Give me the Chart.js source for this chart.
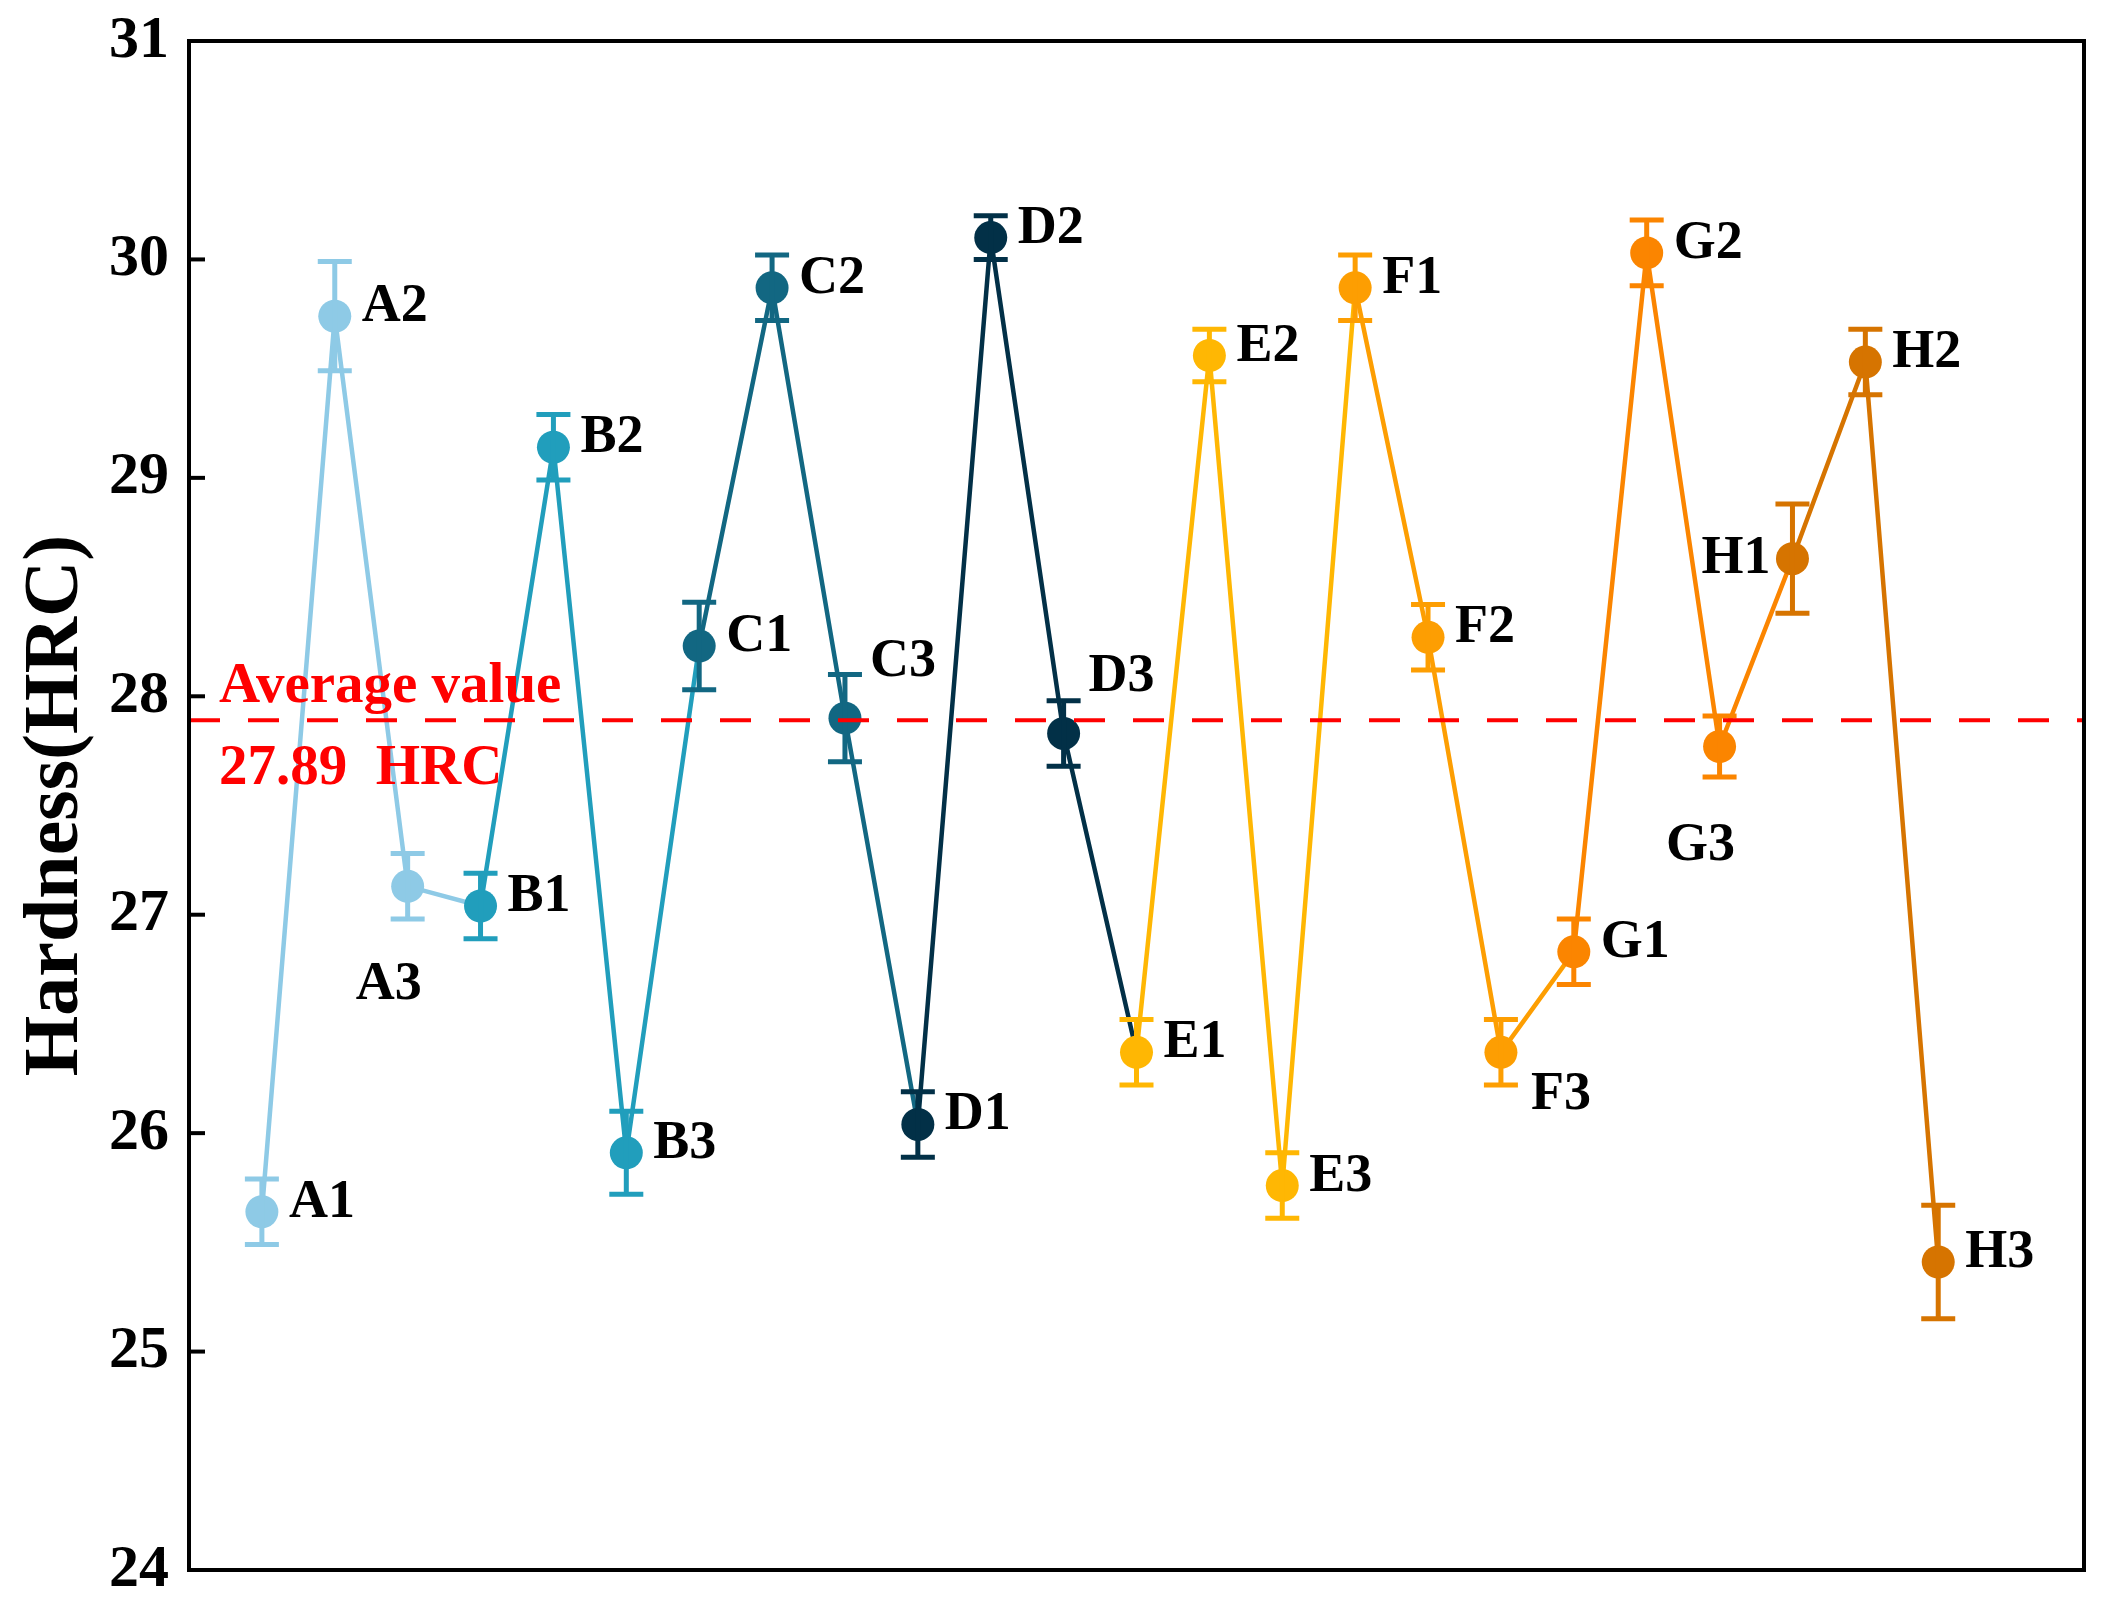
<!DOCTYPE html>
<html lang="en">
<head>
    <meta charset="UTF-8">
    <title>Hardness (HRC)</title>
    <script src="https://cdn.jsdelivr.net/npm/chart.js@4.4.1/dist/chart.umd.min.js"></script>
    <style>
        html, body {
            margin: 0;
            padding: 0;
            background: #fff;
        }
        #chart-box {
            width: 2122px;
            height: 1610px;
        }
    </style>
</head>
<body>
    <div id="chart-box">
        <canvas id="hardness-chart" width="2122" height="1610"></canvas>
    </div>
    <script>
        // sample names, mean hardness and error (HRC)
        const sampleNames = ['A1', 'A2', 'A3', 'B1', 'B2', 'B3', 'C1', 'C2', 'C3', 'D1', 'D2', 'D3',
            'E1', 'E2', 'E3', 'F1', 'F2', 'F3', 'G1', 'G2', 'G3', 'H1', 'H2', 'H3'];
        const hardness = [25.64, 29.74, 27.13, 27.04, 29.14, 25.91, 28.23, 29.87, 27.90, 26.04, 30.10, 27.83,
            26.37, 29.56, 25.76, 29.87, 28.27, 26.37, 26.83, 30.03, 27.77, 28.63, 29.53, 25.41];
        const hardnessErr = [0.15, 0.25, 0.15, 0.15, 0.15, 0.19, 0.20, 0.15, 0.20, 0.15, 0.10, 0.15,
            0.15, 0.12, 0.15, 0.15, 0.15, 0.15, 0.15, 0.15, 0.14, 0.25, 0.15, 0.26];
        const groupNames = ['A', 'B', 'C', 'D', 'E', 'F', 'G', 'H'];
        const groupColors = ['#8ecae6', '#219ebc', '#126782', '#023047', '#ffb703', '#fd9e02', '#fb8500', '#d67400'];
        const averageValue = 27.89;
        const yMin = 24;
        const yMax = 31;

        const serif = "'Liberation Serif', 'Times New Roman', serif";
        const pointColors = sampleNames.map(n => groupColors[groupNames.indexOf(n[0])]);

        // where each sample label sits relative to its point (default is to the right)
        const labelSide = { A3: 'below', G3: 'below', H1: 'left', C3: 'upRight', D3: 'upRight', F3: 'downRight' };

        const decorPlugin = {
            id: 'decor',
            afterDatasetsDraw(chart) {
                const { ctx, chartArea: area, scales: { x, y } } = chart;
                ctx.save();
                // error bars
                hardness.forEach((v, i) => {
                    const px = x.getPixelForValue(i + 1);
                    const top = y.getPixelForValue(v + hardnessErr[i]);
                    const bot = y.getPixelForValue(v - hardnessErr[i]);
                    ctx.strokeStyle = pointColors[i];
                    ctx.lineWidth = 5;
                    ctx.beginPath();
                    ctx.moveTo(px, top);
                    ctx.lineTo(px, bot);
                    ctx.moveTo(px - 17, top);
                    ctx.lineTo(px + 17, top);
                    ctx.moveTo(px - 17, bot);
                    ctx.lineTo(px + 17, bot);
                    ctx.stroke();
                });
                // average line
                const ay = y.getPixelForValue(averageValue);
                ctx.strokeStyle = '#ff0000';
                ctx.lineWidth = 4;
                ctx.setLineDash([31, 28]);
                ctx.beginPath();
                ctx.moveTo(area.left, ay);
                ctx.lineTo(area.right, ay);
                ctx.stroke();
                ctx.restore();
            },
            afterDraw(chart) {
                const { ctx, chartArea: area, scales: { x, y } } = chart;
                ctx.save();
                // frame
                ctx.strokeStyle = '#000';
                ctx.lineWidth = 4;
                ctx.strokeRect(area.left, area.top, area.right - area.left, area.bottom - area.top);
                // inward ticks on the left axis
                y.ticks.forEach(t => {
                    const ty = y.getPixelForValue(t.value);
                    ctx.beginPath();
                    ctx.moveTo(area.left, ty);
                    ctx.lineTo(area.left + 16, ty);
                    ctx.stroke();
                });

                // sample labels
                ctx.fillStyle = '#000';
                ctx.font = 'bold 54px ' + serif;
                ctx.textBaseline = 'alphabetic';
                sampleNames.forEach((name, i) => {
                    const px = x.getPixelForValue(i + 1);
                    const py = y.getPixelForValue(hardness[i]);
                    const side = labelSide[name] || 'right';
                    if (side === 'below') {
                        ctx.textAlign = 'center';
                        ctx.fillText(name, px - 19, py + 113);
                    } else if (side === 'left') {
                        ctx.textAlign = 'right';
                        ctx.fillText(name, px - 22, py + 14);
                    } else if (side === 'upRight') {
                        ctx.textAlign = 'left';
                        ctx.fillText(name, px + 25, py - 42);
                    } else if (side === 'downRight') {
                        ctx.textAlign = 'left';
                        ctx.fillText(name, px + 30, py + 57);
                    } else {
                        ctx.textAlign = 'left';
                        ctx.fillText(name, px + 27, py + 5);
                    }
                });

                // average text
                const ay = y.getPixelForValue(averageValue);
                ctx.fillStyle = '#ff0000';
                ctx.font = 'bold 57px ' + serif;
                ctx.textAlign = 'left';
                ctx.fillText('Average value', area.left + 30, ay - 18);
                ctx.fillText('27.89  HRC', area.left + 30, ay + 64);
                ctx.restore();
            }
        };

        new Chart(document.getElementById('hardness-chart'), {
            type: 'line',
            data: {
                labels: sampleNames,
                datasets: [{
                    data: hardness.map((v, i) => ({ x: i + 1, y: v })),
                    borderWidth: 4.5,
                    pointRadius: 16.5,
                    pointBorderWidth: 0,
                    pointBackgroundColor: pointColors,
                    pointBorderColor: pointColors,
                    segment: {
                        borderColor: c => pointColors[c.p0DataIndex]
                    },
                    tension: 0
                }]
            },
            options: {
                responsive: false,
                animation: false,
                layout: {
                    padding: { top: 41, right: 38, bottom: 40, left: 0 }
                },
                plugins: {
                    legend: { display: false },
                    tooltip: { enabled: false }
                },
                scales: {
                    x: {
                        type: 'linear',
                        min: 0,
                        max: 26,
                        display: false
                    },
                    y: {
                        min: yMin,
                        max: yMax,
                        afterFit: s => { s.width = 189; },
                        // tick marks themselves are drawn inward by the plugin
                        grid: { display: false, drawTicks: true, tickLength: 20 },
                        border: { display: false },
                        ticks: {
                            stepSize: 1,
                            padding: 0,
                            color: '#000',
                            font: { family: serif, size: 60, weight: 'bold' }
                        },
                        title: {
                            display: true,
                            text: 'Hardness(HRC)',
                            color: '#000',
                            font: { family: serif, size: 78, weight: 'bold' },
                            padding: { top: 10, bottom: 0 }
                        }
                    }
                }
            },
            plugins: [decorPlugin]
        });
    </script>
</body>
</html>
